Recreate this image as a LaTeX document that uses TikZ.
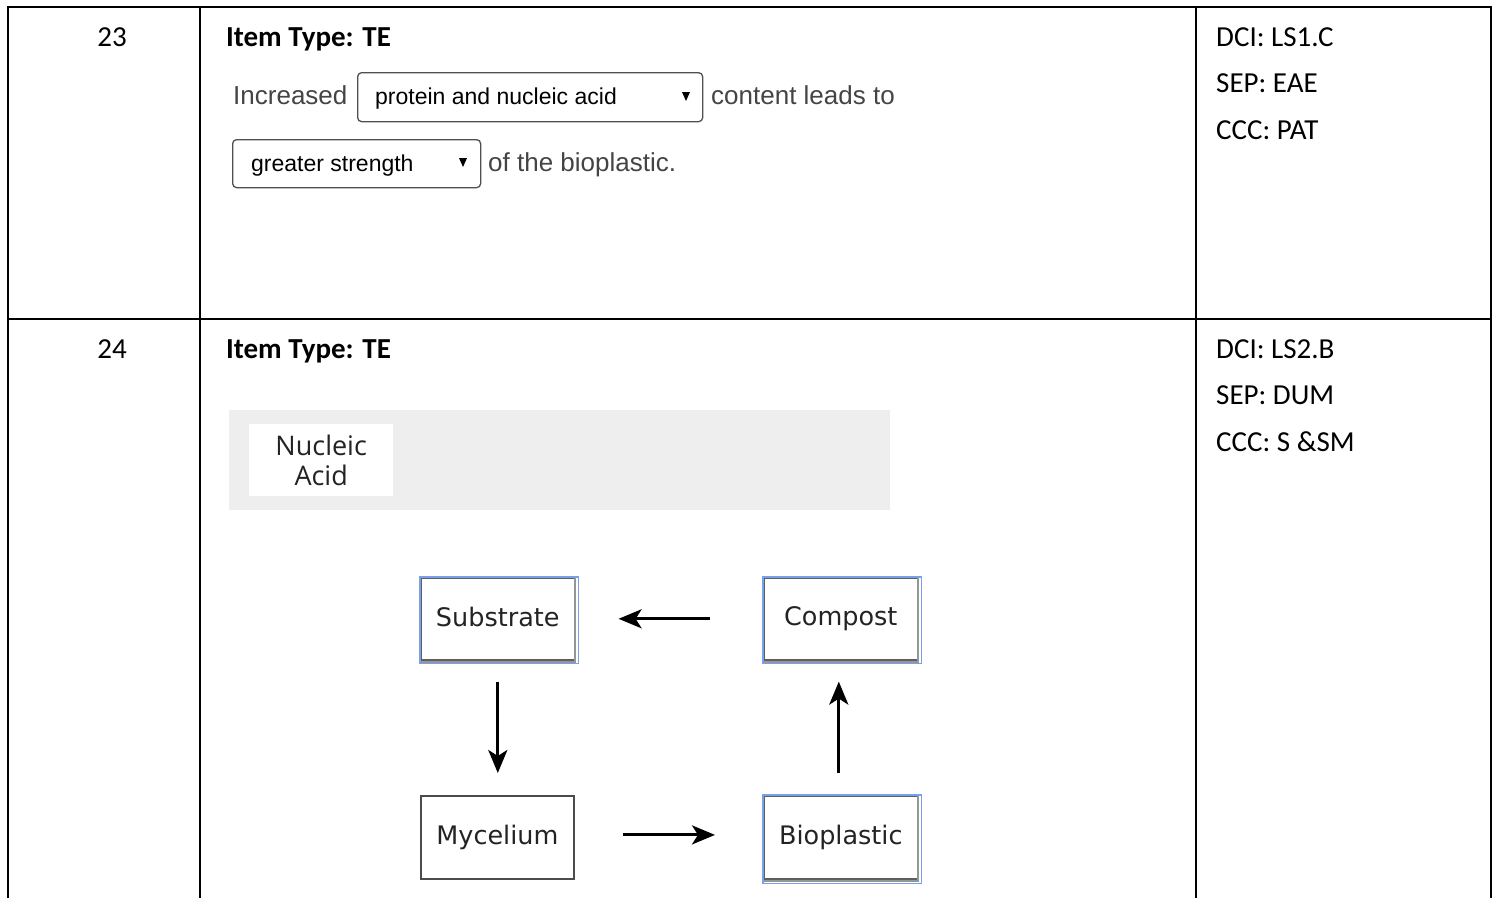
\documentclass[tikz,border=0pt]{standalone}
\usepackage{fontspec}
\setmainfont{Carlito}
\newfontfamily\arialf{Liberation Sans}
\newfontfamily\verdf{DejaVu Sans}
\newfontfamily\osansf{Open Sans}
\usetikzlibrary{arrows.meta}
\definecolor{sentgray}{RGB}{68,68,68}
\definecolor{ddgray}{RGB}{80,80,80}
\definecolor{panelgray}{RGB}{238,238,238}
\definecolor{selblue}{RGB}{120,160,235}
\definecolor{boxgray}{RGB}{95,95,95}
\definecolor{shadowgray}{RGB}{150,150,150}
\definecolor{boxtext}{RGB}{35,35,35}
\tikzset{
  tbltext/.style={font=\fontsize{29}{35}\selectfont, anchor=base west, inner sep=0pt},
  tblnum/.style={font=\fontsize{29}{35}\selectfont, anchor=base, inner sep=0pt},
  tblbold/.style={font=\bfseries\fontsize{29}{35}\selectfont, anchor=base west, inner sep=0pt},
  sent/.style={font=\arialf\fontsize{26}{30}\selectfont, text=sentgray, anchor=base west, inner sep=0pt},
  ddtext/.style={font=\arialf\fontsize{23}{27}\selectfont, text=black, anchor=base west, inner sep=0pt},
  ddbox/.style={draw=ddgray, line width=1.3pt, rounded corners=4pt, anchor=north west, inner sep=0pt},
  ddtri/.style={fill=black},
  gridline/.style={line width=2pt, black},
  cyclebox/.style={draw=boxgray, line width=1.6pt, anchor=north west, inner sep=0pt,
      font=\verdf\fontsize{25.5}{30}\selectfont, text=boxtext},
  selbox/.style={draw=selblue, line width=1.6pt},
  shadowline/.style={draw=shadowgray, line width=2pt},
  arr/.style={line width=3pt, -{Stealth[length=23pt,width=19pt,inset=6pt]}},
}
\begin{document}
\begin{tikzpicture}[x=1pt,y=-1pt]
\useasboundingbox (0,0) rectangle (1497,898);
% table grid
\draw[gridline] (8,898) -- (8,7) -- (1491,7) -- (1491,898);
\draw[gridline] (8,319) -- (1491,319);
\draw[gridline] (200,7) -- (200,898);
\draw[gridline] (1196,7) -- (1196,898);

% row 23
\node[tblnum] (n23) at (112,46) {23};
\node[tblbold] (it1) at (226,46) {Item Type: TE};
\node[tbltext] (dci1) at (1216,46) {DCI: LS1.C};
\node[tbltext] (sep1) at (1216,92) {SEP: EAE};
\node[tbltext] (ccc1) at (1216,139) {CCC: PAT};

\node[sent] (inc) at (233,104) {Increased};
\node[ddbox, minimum width=345pt, minimum height=49pt] (dd1) at (357,72) {};
\node[ddtext] (dd1t) at (375,104) {protein and nucleic acid};
\fill[ddtri] (682,92) -- (690,92) -- (686,101) -- cycle;
\node[sent] (cont) at (711,104) {content leads to};

\node[ddbox, minimum width=248pt, minimum height=48pt] (dd2) at (232,139) {};
\node[ddtext] (dd2t) at (251,171) {greater strength};
\fill[ddtri] (459,158) -- (467,158) -- (463,167) -- cycle;
\node[sent] (ofthe) at (488,171) {of the bioplastic.};

% row 24
\node[tblnum] (n24) at (112,358) {24};
\node[tblbold] (it2) at (226,358) {Item Type: TE};
\node[tbltext] (dci2) at (1216,358) {DCI: LS2.B};
\node[tbltext] (sep2) at (1216,404) {SEP: DUM};
\node[tbltext] (ccc2) at (1216,451) {CCC: S \&SM};

% answer panel
\node[fill=panelgray, anchor=north west, minimum width=661pt, minimum height=100pt, inner sep=0pt] (panel) at (229,410) {};
\node[fill=white, anchor=north west, minimum width=144pt, minimum height=72pt, inner sep=0pt,
      align=center, font=\osansf\fontsize{27}{30.5}\selectfont, text=boxtext] (nuc) at (249,424) {Nucleic\\Acid};

% cycle boxes
\node[cyclebox, minimum width=154pt, minimum height=82pt] (sub) at (420,577) {\raisebox{3pt}{Substrate}};
\draw[shadowline] ([xshift=-1pt]sub.north east) -- ([xshift=-1pt,yshift=-1pt]sub.south east) -- ([yshift=-1pt]sub.south west);
\draw[selbox] (sub.north west) rectangle ([shift={(3,3)}]sub.south east);
\node[cyclebox, minimum width=154pt, minimum height=82pt] (comp) at (763,577) {\raisebox{3pt}{Compost}};
\draw[shadowline] ([xshift=-1pt]comp.north east) -- ([xshift=-1pt,yshift=-1pt]comp.south east) -- ([yshift=-1pt]comp.south west);
\draw[selbox] (comp.north west) rectangle ([shift={(3,3)}]comp.south east);
\node[cyclebox, draw=black!70, line width=1.8pt, minimum width=153pt, minimum height=83pt] (myc) at (420,795) {\raisebox{1pt}{Mycelium}};
\node[cyclebox, minimum width=154pt, minimum height=83pt] (bio) at (763,795) {\raisebox{4pt}{Bioplastic}};
\draw[shadowline] ([xshift=-1pt]bio.north east) -- ([xshift=-1pt,yshift=-1pt]bio.south east) -- ([yshift=-1pt]bio.south west);
\draw[selbox] (bio.north west) rectangle ([shift={(3,4)}]bio.south east);

% arrows
\draw[arr, shorten <=53pt, shorten >=43pt] (comp.west) -- (comp.west -| sub.east);
\draw[arr, shorten <=21pt, shorten >=22pt] (sub.south) -- (sub.south |- myc.north);
\draw[arr, shorten <=48pt, shorten >=48pt] ([yshift=2.5pt]myc.east) -- ([yshift=2.5pt]myc.east -| bio.west);
\draw[arr, shorten <=22pt, shorten >=21pt] ([xshift=-2pt]bio.north) -- ([xshift=-2pt]bio.north |- comp.south);
\end{tikzpicture}
\end{document}
